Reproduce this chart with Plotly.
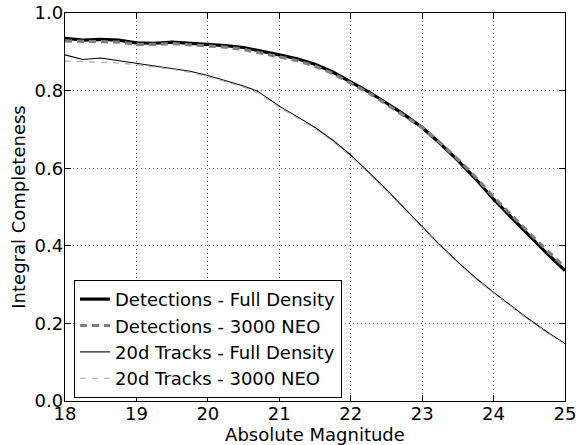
import plotly.graph_objects as go

# Absolute magnitude grid (H)
h_mag = [18.00, 18.25, 18.50, 18.75, 19.00, 19.25, 19.50, 19.75, 20.00, 20.25,
         20.50, 20.70, 21.00, 21.25, 21.50, 21.75, 22.00, 22.25, 22.50, 22.75,
         23.00, 23.25, 23.50, 23.75, 24.00, 24.25, 24.50, 24.75, 25.00]

# Integral completeness per H
det_full = [0.935, 0.930, 0.932, 0.930, 0.923, 0.922, 0.925, 0.922, 0.920, 0.916,
            0.911, 0.904, 0.892, 0.882, 0.868, 0.848, 0.823, 0.797, 0.768, 0.738,
            0.705, 0.664, 0.620, 0.572, 0.520, 0.472, 0.426, 0.380, 0.336]
det_3000 = [0.928, 0.926, 0.926, 0.925, 0.919, 0.919, 0.921, 0.918, 0.916, 0.912,
            0.906, 0.899, 0.887, 0.877, 0.863, 0.844, 0.819, 0.794, 0.765, 0.736,
            0.705, 0.666, 0.623, 0.577, 0.526, 0.479, 0.433, 0.388, 0.344]
trk_full = [0.892, 0.880, 0.884, 0.877, 0.870, 0.864, 0.858, 0.850, 0.839, 0.826,
            0.812, 0.798, 0.760, 0.733, 0.705, 0.672, 0.634, 0.590, 0.545, 0.497,
            0.450, 0.402, 0.358, 0.317, 0.280, 0.244, 0.210, 0.178, 0.148]
trk_3000 = [0.876, 0.875, 0.873, 0.871, 0.867, 0.861, 0.855, 0.847, 0.836, 0.823,
            0.809, 0.795, 0.757, 0.730, 0.702, 0.669, 0.631, 0.587, 0.542, 0.494,
            0.447, 0.400, 0.356, 0.315, 0.278, 0.242, 0.208, 0.176, 0.146]

series = [
    ("Detections - Full Density", det_full, dict(color="black", width=3.2)),
    ("Detections - 3000 NEO", det_3000, dict(color="#808080", width=3.2, dash="7px,5px")),
    ("20d Tracks - Full Density", trk_full, dict(color="black", width=1.1)),
    ("20d Tracks - 3000 NEO", trk_3000, dict(color="#a8a8a8", width=1.1, dash="6px,6px")),
]

fig = go.Figure()
for name, vals, line in series:
    fig.add_trace(go.Scatter(x=h_mag, y=vals, mode="lines", name=name, line=line))

FS = 18
axis_common = dict(
    automargin=False, ticklabeloverflow="allow",
    showline=True, linecolor="black", linewidth=1.3, mirror="ticks",
    ticks="inside", ticklen=6, tickwidth=1, tickcolor="black",
    showgrid=True, gridcolor="#777777", griddash="1px,3px", gridwidth=1,
    zeroline=False, tickfont=dict(size=FS, color="black"),
)

fig.update_layout(
    width=576, height=445,
    margin=dict(l=65, r=11, t=13, b=44),
    paper_bgcolor="white", plot_bgcolor="white",
    font=dict(family="DejaVu Sans", color="black"),
    xaxis=dict(range=[18, 25], dtick=1, ticklabelstandoff=-4,
               title=dict(text="Absolute Magnitude", font=dict(size=FS), standoff=0),
               **axis_common),
    yaxis=dict(range=[0, 1], dtick=0.2, tickformat=".1f", ticklabelstandoff=-3,
               title=dict(text="Integral Completeness", font=dict(size=FS), standoff=4),
               **axis_common),
    legend=dict(x=0.018, y=0.008, xanchor="left", yanchor="bottom",
                bordercolor="black", borderwidth=1, bgcolor="white",
                font=dict(size=FS, color="black")),
)

fig.write_html("out.html")
